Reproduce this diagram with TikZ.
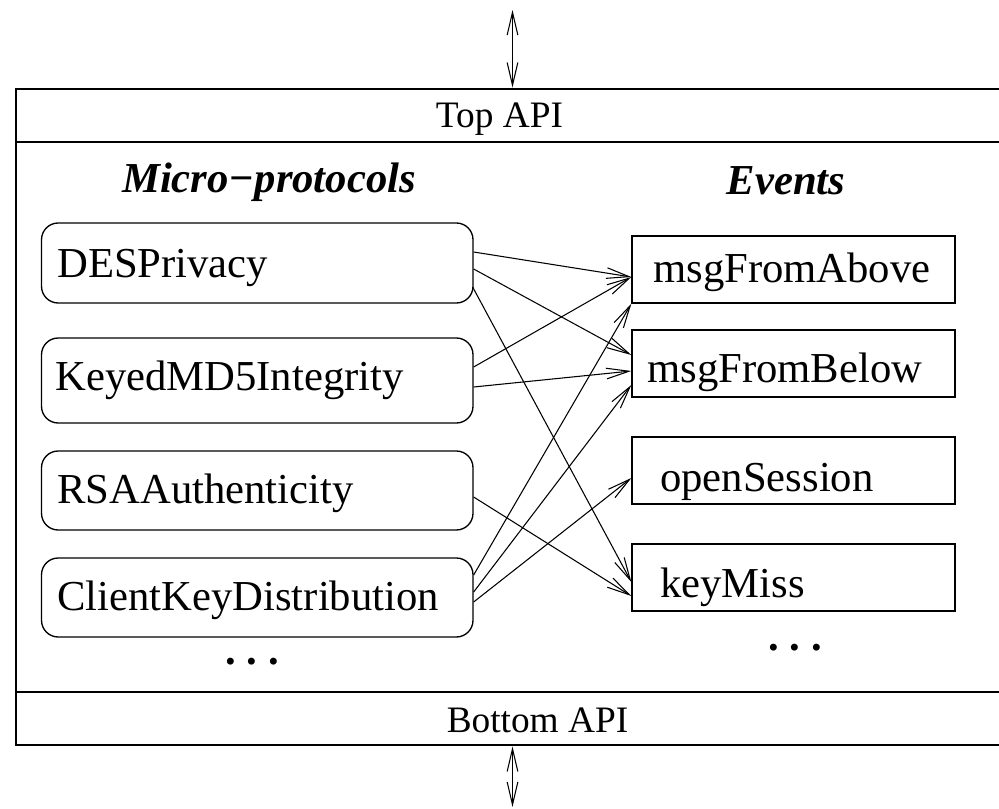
\documentclass[tikz,border=0pt]{standalone}
\usepackage{fontspec}
\setmainfont{Liberation Serif}
\usetikzlibrary{arrows.meta,calc}
\begin{document}
\begin{tikzpicture}[x=0.75pt,y=-0.75pt,
  bigtext/.style={font=\fontsize{32}{38}\selectfont},
  apitext/.style={font=\fontsize{28}{34}\selectfont, inner sep=0pt, anchor=base},
  heading/.style={font=\fontsize{32}{38}\selectfont\bfseries\itshape, inner sep=0pt, anchor=base},
  boxtext/.style={bigtext, inner sep=0pt, anchor=base west},
  dotrow/.style={font=\fontsize{32}{38}\selectfont\bfseries, inner sep=0pt, anchor=base},
  protobox/.style={draw, line width=1pt, rounded corners=12.5pt, minimum width=323.6pt, inner sep=0pt},
  eventbox/.style={draw, line width=1pt, minimum width=242.25pt, minimum height=50.25pt, inner sep=0pt},
  barb/.tip={Straight Barb[length=17pt,width=8pt]},
  binds/.style={line width=0.8pt, -barb},
  updown/.style={line width=0.8pt, barb-barb},
  frame/.style={draw, line width=2.2pt, minimum width=744.75pt, minimum height=492pt, inner sep=0pt}
]
\useasboundingbox (0,0) rectangle (999,809);
\clip (0,0) rectangle (999,809);

% protocol stack frame with its two API bands
\node[frame] (stack) at (512.5,417) {};
\draw[line width=2.2pt] (16,142) -- (1009,142);
\draw[line width=2.2pt] (16,692) -- (1009,692);
\node[apitext] (topapi) at (499.5,128) {Top API};
\node[apitext] (botapi) at (537.5,732) {Bottom API};

\coordinate (topend) at (512.5,10);
\coordinate (botend) at (512.5,807);
\draw[updown] (topend) -- (stack.north);
\draw[updown] (stack.south) -- (botend);

% column headings
\node[heading] (mphead) at (269,193) {Micro−protocols};
\node[heading] (evhead) at (786,195) {Events};

% micro-protocols
\node[protobox, minimum height=60pt]    (des) at (257.25,263) {};
\node[protobox, minimum height=63.75pt] (md5) at (257.25,380.5) {};
\node[protobox, minimum height=59.25pt] (rsa) at (257.25,490.5) {};
\node[protobox, minimum height=59.25pt] (ckd) at (257.25,597.5) {};
\node[boxtext] (desT) at (57,277) {DESPrivacy};
\node[boxtext] (md5T) at (55,390) {KeyedMD5Integrity};
\node[boxtext] (rsaT) at (57,503) {RSAAuthenticity};
\node[boxtext] (ckdT) at (57,610) {ClientKeyDistribution};
\node[dotrow] (mpdots) at (252,664) {.\ .\ .};

% events
\node[eventbox] (evA) at (793.5,269.5) {};
\node[eventbox] (evB) at (793.5,363.5) {};
\node[eventbox] (evO) at (793.5,470.5) {};
\node[eventbox] (evK) at (793.5,577.5) {};
\node[boxtext] (evAT) at (653,282) {msgFromAbove};
\node[boxtext] (evBT) at (647,382) {msgFromBelow};
\node[boxtext] (evOT) at (660,491) {openSession};
\node[boxtext] (evKT) at (660,597) {keyMiss};
\node[dotrow] (evdots) at (795,650) {.\ .\ .};

% event bindings
\draw[binds] ($(des.east)+(0,-11)$)   -- ($(evA.west)+(0,7.5)$);
\draw[binds] ($(des.east)+(0,6)$)     -- ($(evB.west)+(0,-8.5)$);
\draw[binds] ($(des.east)+(-1,24)$)   -- ($(evK.west)+(0,4.5)$);
\draw[binds] ($(md5.east)+(0,-13.5)$) -- ($(evA.west)+(0,7.5)$);
\draw[binds] ($(md5.east)+(0,6.5)$)   -- ($(evB.west)+(0,7.5)$);
\draw[binds] ($(rsa.east)+(0,6.5)$)   -- ($(evK.west)+(0,18.5)$);
\draw[binds] ($(ckd.east)+(0,-22.5)$) -- (evA.south west);
\draw[binds] ($(ckd.east)+(0,-5.5)$)  -- ($(evB.west)+(0,21.5)$);
\draw[binds] ($(ckd.east)+(0,4.5)$)   -- ($(evO.west)+(0,7.5)$);
\end{tikzpicture}
\end{document}
